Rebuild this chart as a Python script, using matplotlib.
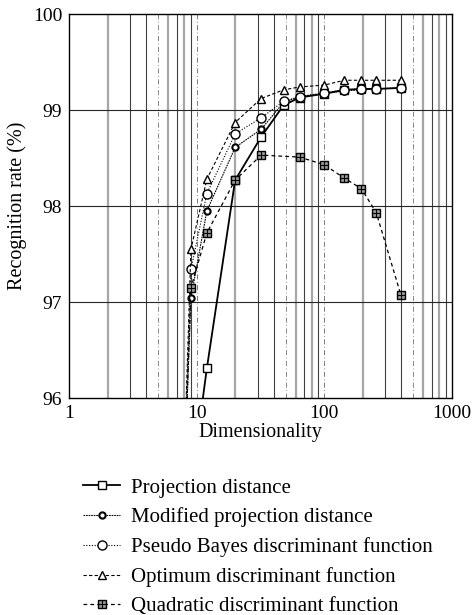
import numpy as np
import matplotlib.pyplot as plt

plt.rcParams['font.family'] = ['Liberation Serif', 'DejaVu Serif']

# data
dims_proj = [9, 12, 20, 32, 48, 64, 100, 144, 196, 256, 400]
proj = [95.07, 96.31, 98.27, 98.72, 99.05, 99.13, 99.17, 99.21, 99.22, 99.22, 99.23]

dims_full = [8, 9, 12, 20, 32, 48, 64, 100, 144, 196, 256, 400]
mod_proj = [95.2, 97.04, 97.95, 98.61, 98.80, 99.08, 99.14, 99.17, 99.20, 99.21, 99.22, 99.23]
pseudo_bayes = [95.3, 97.34, 98.13, 98.75, 98.92, 99.09, 99.14, 99.18, 99.21, 99.22, 99.22, 99.23]
optimum = [95.4, 97.55, 98.28, 98.87, 99.12, 99.21, 99.24, 99.26, 99.31, 99.31, 99.31, 99.31]

dims_quad = [8, 9, 12, 20, 32, 64, 100, 144, 196, 256, 400]
quadratic = [95.2, 97.15, 97.72, 98.27, 98.53, 98.51, 98.43, 98.29, 98.18, 97.93, 97.07]

labels = ["Projection distance",
          "Modified projection distance",
          "Pseudo Bayes discriminant function",
          "Optimum discriminant function",
          "Quadratic discriminant function"]

fig = plt.figure(figsize=(4.73, 6.15), dpi=100)
ax = fig.add_axes([0.1465, 0.3528, 0.8085, 0.6244])

ax.set_xscale('log')
ax.set_xlim(1, 1000)
ax.set_ylim(96, 100)

# grid, imitating the scanned look (some lines grey, some dark)
minor_col = {2: '0.65', 3: '0.25', 4: '0.25', 6: '0.65', 7: '0.25', 8: '0.65', 9: '0.25'}
for dec in [1, 10, 100]:
    for m in range(2, 10):
        if m == 5:
            ax.axvline(m * dec, color='0.45', lw=0.6, ls=(0, (6, 3, 1, 3)), zorder=0)
        else:
            lw = 1.6 if minor_col[m] == '0.65' else 0.8
            ax.axvline(m * dec, color=minor_col[m], lw=lw, zorder=0)
for v in [10, 100]:
    ax.axvline(v, color='0.4', lw=0.6, ls=(0, (6, 3, 1, 3)), zorder=0)
for yv in [97, 98, 99]:
    ax.axhline(yv, color='0.15', lw=0.8, zorder=0)

mk = dict(markerfacecolor='white', markeredgecolor='black')
h1, = ax.plot(dims_proj, proj, color='black', lw=1.3, ls='-', marker='s',
              markersize=6, markeredgewidth=1.0, **mk)
h2, = ax.plot(dims_full, mod_proj, color='black', lw=0.8, ls=(0, (1.5, 0.8)), marker='o',
              markersize=4.5, markeredgewidth=1.5, **mk)
h3, = ax.plot(dims_full, pseudo_bayes, color='black', lw=0.8, ls=(0, (1, 1.5)), marker='o',
              markersize=6.5, markeredgewidth=1.0, **mk)
h4, = ax.plot(dims_full, optimum, color='black', lw=0.8, ls=(0, (3, 2)), marker='^',
              markersize=6, markeredgewidth=1.0, **mk)
h5, = ax.plot(dims_quad, quadratic, color='black', lw=0.9, ls=(0, (3, 2.5)),
              marker='s', markersize=6, markeredgewidth=1.0,
              markerfacecolor='0.6', markeredgecolor='black')
h5b, = ax.plot(dims_quad, quadratic, ls='none', marker='+', markersize=6,
               markeredgewidth=0.8, color='black')

ax.set_xticks([1, 10, 100, 1000])
ax.set_xticklabels(['1', '10', '100', '1000'])
ax.set_yticks([96, 97, 98, 99, 100])
ax.set_yticklabels(['96', '97', '98', '99', '100'])
ax.tick_params(which='both', length=0, labelsize=14, pad=5)
ax.minorticks_off()
for s in ax.spines.values():
    s.set_linewidth(1.0)
    s.set_color('black')

ax.set_xlabel("Dimensionality", fontsize=14.5, labelpad=1)
ax.set_ylabel("Recognition rate (%)", fontsize=14.5, labelpad=4)

fig.legend([h1, h2, h3, h4, (h5, h5b)], labels,
           loc='upper left', bbox_to_anchor=(0.1755, 0.2225), frameon=False,
           fontsize=15, handlelength=1.78, handletextpad=0.5,
           labelspacing=0.47, borderaxespad=0, borderpad=0)

fig.savefig("out.png", dpi=100)
